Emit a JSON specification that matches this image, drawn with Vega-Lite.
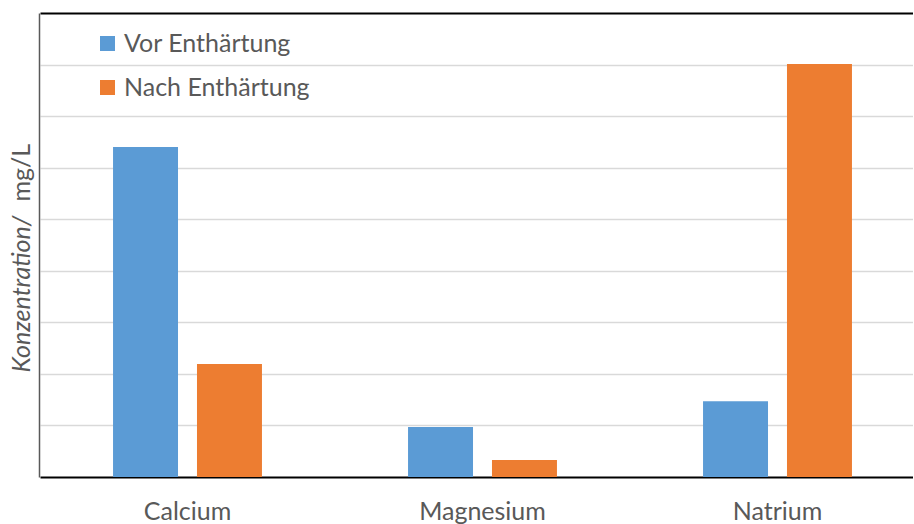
{
  "$schema": "https://vega.github.io/schema/vega-lite/v6.json",
  "width": 874,
  "height": 464,
  "autosize": "none",
  "padding": {"left": 39, "top": 13, "right": 0, "bottom": 47},
  "background": "white",
  "config": {
    "view": {"stroke": null},
    "font": "Lato",
    "text": {"font": "Lato"}
  },
  "data": {
    "values": [
      {"element": "Calcium", "phase": "Vor Enthärtung", "value": 6.40},
      {"element": "Calcium", "phase": "Nach Enthärtung", "value": 2.19},
      {"element": "Magnesium", "phase": "Vor Enthärtung", "value": 0.97},
      {"element": "Magnesium", "phase": "Nach Enthärtung", "value": 0.33},
      {"element": "Natrium", "phase": "Vor Enthärtung", "value": 1.47},
      {"element": "Natrium", "phase": "Nach Enthärtung", "value": 8.01}
    ]
  },
  "layer": [
    {
      "mark": {"type": "bar"},
      "encoding": {
        "x": {
          "field": "element",
          "type": "nominal",
          "sort": ["Calcium", "Magnesium", "Natrium"],
          "scale": {"range": [1, 886], "paddingInner": 0, "paddingOuter": 0},
          "axis": {
            "title": null,
            "domain": false,
            "ticks": false,
            "labelAngle": 0,
            "labelFont": "Lato",
            "labelFontSize": 25,
            "labelColor": "#595959",
            "labelPadding": 22,
            "grid": false
          }
        },
        "xOffset": {
          "field": "phase",
          "type": "nominal",
          "sort": ["Vor Enthärtung", "Nach Enthärtung"],
          "scale": {"paddingInner": 0.226, "paddingOuter": 0.87}
        },
        "y": {
          "field": "value",
          "type": "quantitative",
          "scale": {"domain": [0, 9], "nice": false},
          "axis": {
            "values": [0, 1, 2, 3, 4, 5, 6, 7, 8, 9],
            "labels": false,
            "ticks": false,
            "domain": true,
            "domainColor": "#595959",
            "domainWidth": 1.5,
            "grid": true,
            "gridColor": {"condition": {"test": "datum.value == 0 || datum.value == 9", "value": "#000000"}, "value": "#d9d9d9"},
            "gridWidth": {"condition": {"test": "datum.value == 0 || datum.value == 9", "value": 2}, "value": 1.5},
            "title": "Konzentration/",
            "titleFont": "Lato",
            "titleFontSize": 25,
            "titleFontStyle": "italic",
            "titleFontWeight": "normal",
            "titleColor": "#595959",
            "titleAlign": "left",
            "titleBaseline": "alphabetic",
            "titleAngle": 270,
            "titleX": -10,
            "titleY": 359
          }
        },
        "color": {
          "field": "phase",
          "type": "nominal",
          "scale": {"domain": ["Vor Enthärtung", "Nach Enthärtung"], "range": ["#5B9BD5", "#ED7D31"]},
          "legend": {
            "title": null,
            "orient": "none",
            "legendX": 56,
            "legendY": 18,
            "symbolType": "square",
            "symbolSize": 225,
            "symbolStrokeWidth": 0,
            "labelFont": "Lato",
            "labelFontSize": 25,
            "labelColor": "#595959",
            "labelOffset": 4,
            "labelLimit": 400,
            "rowPadding": 18,
            "padding": 0
          }
        }
      }
    },
    {
      "mark": {"type": "bar", "opacity": 0},
      "encoding": {
        "x": {"field": "element", "type": "nominal", "sort": ["Calcium", "Magnesium", "Natrium"]},
        "xOffset": {"field": "phase", "type": "nominal", "sort": ["Vor Enthärtung", "Nach Enthärtung"]},
        "y": {
          "field": "value",
          "type": "quantitative",
          "axis": {
            "orient": "left",
            "labels": false,
            "ticks": false,
            "domain": false,
            "grid": false,
            "title": "mg/L",
            "titleFont": "Lato",
            "titleFontSize": 25,
            "titleFontStyle": "normal",
            "titleFontWeight": "normal",
            "titleColor": "#595959",
            "titleAlign": "left",
            "titleBaseline": "alphabetic",
            "titleAngle": 270,
            "titleX": -10,
            "titleY": 188
          }
        }
      }
    }
  ],
  "resolve": {"axis": {"y": "independent"}}
}
